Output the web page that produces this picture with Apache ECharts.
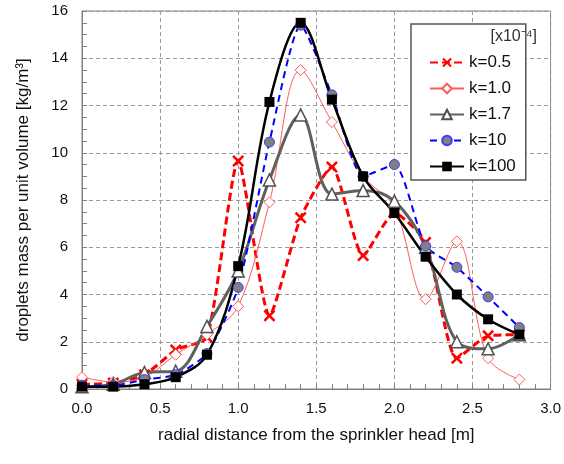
<!DOCTYPE html>
<html>
<head>
<meta charset="utf-8">
<style>
  html, body {margin:0;padding:0;background:#fff;}
  #chart {width:564px;height:464px;}
</style>
</head>
<body>
<div id="chart"></div>
<script src="https://cdn.jsdelivr.net/npm/echarts@6/dist/echarts.min.js"></script>
<script>
// radial distance [m]
var dist = [0.0, 0.2, 0.4, 0.6, 0.8, 1.0, 1.2, 1.4, 1.6, 1.8, 2.0, 2.2, 2.4, 2.6, 2.8];

// droplets mass per unit volume [kg/m3], one list per k
var k05  = [0.2, 0.25, 0.6, 1.65, 2.2, 9.65, 3.1, 7.25, 9.4, 5.65, 7.45, 6.2, 1.3, 2.25, 2.3];
var k10  = [0.5, 0.3, 0.5, 1.45, 2.3, 3.5, 7.9, 13.5, 11.3, 9.0, 7.7, 3.8, 6.25, 1.3, 0.4];
var k17  = [0.1, 0.2, 0.7, 0.75, 2.65, 5.0, 8.85, 11.6, 8.25, 8.4, 7.95, 6.0, 2.0, 1.7, 2.3];
var k100a = [0.15, 0.15, 0.4, 0.6, 1.5, 4.3, 10.45, 15.4, 12.45, 9.0, 9.5, 6.05, 5.15, 3.9, 2.6]; // k=10
var k1000 = [0.1, 0.1, 0.2, 0.5, 1.45, 5.2, 12.15, 15.5, 12.25, 9.0, 7.45, 5.6, 4.0, 2.95, 2.3]; // k=100

var names = ['k=0.5', 'k=1.0', 'k=1.7', 'k=10', 'k=100'];

function pairs(vals) {
    return dist.map(function (d, i) { return [d, vals[i]]; });
}

var xMark = 'path://M0,1.5L1.5,0L5,3.5L8.5,0L10,1.5L6.5,5L10,8.5L8.5,10L5,6.5L1.5,10L0,8.5L3.5,5Z';
var font = 'Liberation Sans';

var option = {
    animation: false,
    textStyle: {fontFamily: font},
    grid: {left: 82, right: 12, top: 11, bottom: 75, show: true, borderColor: '#808080', borderWidth: 1},
    legend: {
        orient: 'vertical',
        left: 411,
        top: 24,
        width: 132,
        padding: [30, 10, 5, 18],
        itemGap: 9,
        itemWidth: 34,
        itemHeight: 12,
        borderColor: '#555',
        borderWidth: 1.5,
        backgroundColor: '#fff',
        textStyle: {fontFamily: font, fontSize: 17, color: '#111'},
        data: names
    },
    graphic: [{
        type: 'text',
        right: 27,
        top: 29,
        style: {
            text: '[x10\u207B\u2074]',
            font: '16px "Liberation Sans"',
            fill: '#333'
        },
        z: 100
    }],
    xAxis: {
        type: 'value',
        min: 0, max: 3, interval: 0.5,
        name: 'radial distance from the sprinkler head [m]',
        nameLocation: 'middle',
        nameGap: 38,
        nameTextStyle: {fontSize: 17, color: '#111', fontFamily: font},
        axisLine: {lineStyle: {color: '#808080'}},
        axisTick: {show: true, inside: true, length: 5, lineStyle: {color: '#808080'}},
        minorTick: {show: true, splitNumber: 5, length: 5, lineStyle: {color: '#808080'}},
        axisLabel: {fontSize: 15, color: '#111', margin: 12, formatter: function (v) { return v.toFixed(1); }},
        splitLine: {show: true, lineStyle: {color: '#999', type: [4, 3]}}
    },
    yAxis: {
        type: 'value',
        min: 0, max: 16, interval: 2,
        name: 'droplets mass per unit volume [kg/m\u00B3]',
        nameLocation: 'middle',
        nameGap: 50,
        nameTextStyle: {fontSize: 17, color: '#111', fontFamily: font},
        axisLine: {show: true, lineStyle: {color: '#808080'}},
        axisTick: {show: true, inside: true, length: 5, lineStyle: {color: '#808080'}},
        minorTick: {show: true, splitNumber: 4, length: 5, lineStyle: {color: '#808080'}},
        axisLabel: {fontSize: 15, color: '#111', margin: 14},
        splitLine: {show: true, lineStyle: {color: '#999', type: [4, 3]}}
    },
    series: [
        {
            name: 'k=0.5', type: 'line', data: pairs(k05), smooth: 0.2,
            symbol: xMark, symbolSize: 12,
            lineStyle: {color: '#ff0000', width: 3, type: [8, 4]},
            itemStyle: {color: '#ff0000', borderWidth: 0}
        },
        {
            name: 'k=1.0', type: 'line', data: pairs(k10), smooth: 0.35,
            symbol: 'diamond', symbolSize: 11, showAllSymbol: true,
            lineStyle: {color: '#ff5a5a', width: 1},
            itemStyle: {color: '#fff', borderColor: '#ff5a5a', borderWidth: 1}
        },
        {
            name: 'k=1.7', type: 'line', data: pairs(k17), smooth: 0.35,
            symbol: 'triangle', symbolSize: 12,
            lineStyle: {color: '#606060', width: 3},
            itemStyle: {color: '#fff', borderColor: '#505050', borderWidth: 1.5}
        },
        {
            name: 'k=10', type: 'line', data: pairs(k100a), smooth: 0.2,
            symbol: 'circle', symbolSize: 10,
            lineStyle: {color: '#0000ff', width: 2, type: [7, 5]},
            itemStyle: {color: '#808080', borderColor: '#3a3aff', borderWidth: 1}
        },
        {
            name: 'k=100', type: 'line', data: pairs(k1000), smooth: 0.35,
            symbol: 'rect', symbolSize: 10,
            lineStyle: {color: '#000', width: 2.5},
            itemStyle: {color: '#000', borderWidth: 0}
        }
    ]
};

echarts.init(document.getElementById('chart')).setOption(option);
</script>
</body>
</html>
